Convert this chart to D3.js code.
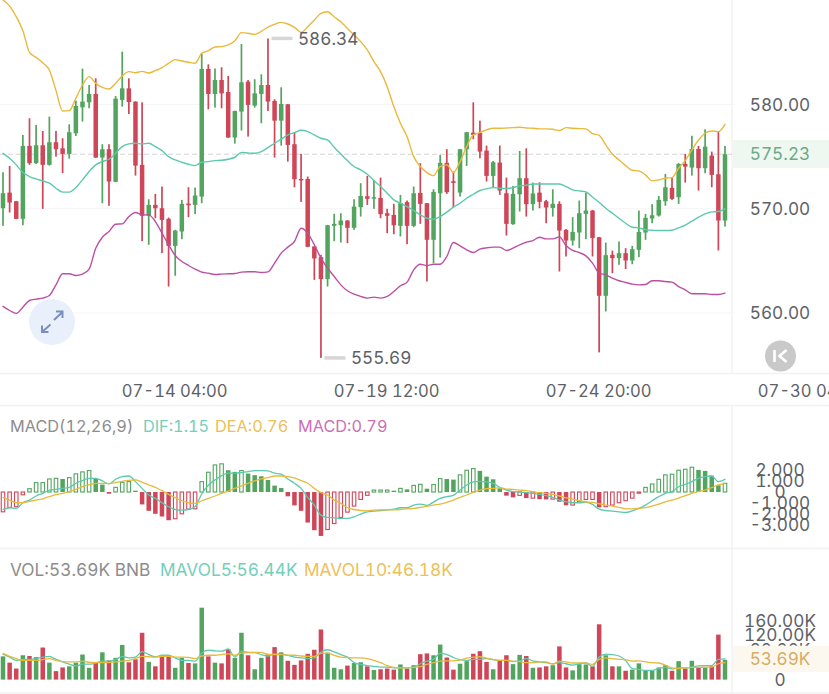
<!DOCTYPE html>
<html>
<head>
<meta charset="utf-8">
<title>BNB candlestick chart</title>
<script src="https://cdn.jsdelivr.net/npm/d3@7/dist/d3.min.js"></script>
<style>
html,body{margin:0;padding:0;background:#fff;}
svg{display:block;}
text{font-family:Inter,Roboto,"Noto Sans",sans-serif;font-variant-numeric:tabular-nums;}
</style>
</head>
<body>
<svg id="chart" width="829" height="694"></svg>
<script>
// Candles as open, high, low, close
const candles = [
[570.05,573.50,568.36,571.49],[571.55,574.11,569.64,570.60],[570.72,570.75,569.00,569.03],[569.03,577.08,568.42,576.03],[576.03,578.68,574.21,574.37],
[574.37,578.04,574.30,576.09],[576.09,577.46,569.99,574.21],[574.21,578.84,574.14,576.38],[576.38,577.46,575.00,575.71],[575.80,576.76,573.41,575.26],
[575.26,578.10,574.81,577.34],[577.24,580.37,576.98,579.86],[579.73,583.44,578.36,580.28],[580.21,581.87,579.64,581.01],[581.01,582.51,574.88,574.91],
[574.91,576.19,570.53,575.71],[575.71,576.19,570.28,572.61],[572.58,580.82,572.55,580.56],[580.44,585.07,579.80,581.55],[581.55,582.51,579.09,580.24],
[580.28,580.30,573.18,574.14],[574.21,580.21,566.89,569.32],[569.32,570.91,566.54,570.37],[570.37,571.43,569.09,570.05],[570.05,572.13,565.74,568.93],
[569.03,569.16,562.54,566.44],[566.44,567.98,563.57,567.91],[567.82,570.85,567.08,570.47],[570.50,572.06,569.19,570.34],[570.37,572.03,569.48,571.27],
[571.17,584.91,570.53,583.41],[583.41,583.85,579.54,581.01],[581.01,583.45,579.70,582.35],[582.35,583.57,579.64,581.07],[581.20,582.74,576.80,576.83],
[576.83,579.41,576.25,579.38],[579.32,585.80,577.50,582.13],[582.19,582.35,576.92,579.96],[579.89,582.42,579.70,581.07],[581.01,582.90,578.20,581.87],
[581.87,586.34,579.38,580.28],[580.34,580.50,574.91,578.45],[578.45,581.65,576.06,580.05],[580.02,580.05,574.52,576.12],[576.19,577.30,572.06,572.83],
[572.86,575.26,570.66,572.74],[572.86,573.09,566.32,566.35],[566.38,566.40,563.18,565.23],[565.36,565.58,555.69,563.25],[563.25,568.45,562.54,568.42],
[568.36,569.51,566.89,568.55],[568.42,569.57,566.76,568.87],[568.87,568.90,566.70,568.17],[568.17,570.91,567.98,570.21],[570.15,572.45,569.25,571.23],
[571.20,573.15,570.37,570.95],[570.98,572.77,569.99,571.11],[571.04,572.99,569.09,569.48],[569.57,569.99,567.66,569.32],[569.41,570.47,567.56,568.42],
[568.36,571.33,567.34,570.53],[570.63,570.79,566.60,568.36],[568.36,572.13,568.23,571.49],[571.52,574.37,568.55,570.47],[570.53,570.55,563.02,567.02],
[567.02,571.87,564.78,571.62],[571.49,575.16,565.32,574.40],[574.40,575.71,571.43,571.59],[572.64,573.57,570.15,572.48],[571.55,575.74,571.17,575.71],
[575.71,577.37,574.11,577.34],[577.30,580.21,576.67,577.08],[577.27,578.45,574.84,575.48],[575.58,576.06,572.61,573.15],[573.15,574.59,572.06,574.46],
[574.43,576.06,571.33,571.75],[571.49,572.99,567.43,568.55],[568.52,572.19,568.46,571.43],[571.39,575.55,569.73,572.93],[572.93,575.80,569.25,570.44],
[570.44,572.51,569.83,571.46],[571.55,572.54,570.05,570.66],[570.72,570.85,568.61,570.12],[570.08,571.87,569.25,570.47],[570.47,570.72,563.98,567.91],
[567.98,568.04,565.42,566.95],[566.95,569.19,566.47,567.78],[567.72,570.79,566.22,569.57],[569.51,571.55,567.08,569.83],[569.83,569.89,565.42,567.18],
[567.27,567.30,556.22,561.65],[561.65,566.76,560.15,565.55],[565.58,565.99,563.82,565.26],[565.26,566.86,564.62,565.74],[565.74,566.22,564.21,565.04],
[565.04,566.44,564.68,566.12],[566.06,569.83,565.36,567.78],[567.72,569.51,567.02,569.13],[569.06,570.44,568.61,569.38],[569.35,571.23,569.25,570.85],
[570.72,573.34,570.28,572.06],[572.00,572.99,570.85,570.95],[571.11,574.37,570.47,574.30],[574.30,575.26,572.51,574.05],[573.95,577.00,573.18,575.74],
[575.74,576.03,571.75,573.89],[573.89,577.62,573.41,575.96],[575.10,575.48,572.06,573.25],[573.31,577.40,566.00,568.87],[568.87,576.03,568.29,575.23]
];

// Bollinger bands
const bollUpper = [
590.02,589.44,588.42,587.08,585.00,584.52,584.01,583.31,581.33,579.38,
579.41,580.60,581.87,582.67,582.03,581.65,581.49,582.03,582.74,583.15,
583.05,583.18,583.02,583.25,583.53,583.95,584.30,584.17,584.05,583.95,
584.91,585.16,585.52,585.55,585.71,586.12,586.89,586.83,586.73,587.02,
587.43,587.69,587.88,587.72,587.40,586.92,587.46,588.10,588.74,588.90,
588.42,587.94,587.30,586.67,586.03,585.23,584.11,583.15,581.71,579.80,
578.20,576.92,575.00,574.05,573.47,573.18,574.05,574.21,573.47,574.52,
575.96,577.08,577.30,577.56,577.72,577.72,577.75,577.78,577.82,577.75,
577.72,577.66,577.66,577.62,577.50,577.78,577.72,577.69,577.66,577.21,
577.05,576.12,575.26,574.68,574.14,573.69,573.63,573.25,572.67,572.77,
572.93,572.99,573.89,574.62,575.64,576.60,577.24,577.46,577.40,578.10];
const bollMid = [
575.32,574.84,574.21,573.47,573.09,572.86,572.67,572.45,571.97,571.59,
571.59,572.03,572.77,573.57,574.21,574.52,574.75,575.32,575.96,576.22,
576.28,576.22,576.28,575.96,575.58,575.00,574.68,574.46,574.27,574.14,
574.46,574.52,574.62,574.65,574.75,574.94,575.39,575.35,575.32,575.48,
575.87,576.28,576.67,577.08,577.30,577.53,577.40,577.08,576.76,576.60,
575.90,575.26,574.62,574.05,573.73,573.31,572.70,572.13,571.49,570.85,
570.53,570.21,569.83,569.41,569.09,569.00,569.25,569.67,570.15,570.53,
571.01,571.39,571.75,571.91,572.03,571.97,571.94,572.03,572.19,572.26,
572.38,572.38,572.38,572.38,572.38,572.13,571.81,571.71,571.62,571.11,
570.63,570.05,569.57,569.09,568.61,568.23,568.17,567.98,567.94,567.91,
567.91,567.94,568.17,568.42,568.81,569.19,569.51,569.70,569.73,569.99];
const bollLower = [
560.63,560.24,559.96,560.56,561.20,561.33,561.43,561.68,562.70,563.76,
563.76,563.60,563.73,564.21,566.22,567.27,567.82,568.52,568.55,569.25,
569.64,569.41,569.41,568.77,567.66,566.54,565.51,564.94,564.56,564.21,
563.92,563.82,563.69,563.73,563.76,563.79,563.92,563.95,563.95,563.89,
563.95,564.78,565.74,566.32,566.86,568.13,567.66,566.54,565.26,564.30,
563.50,562.70,562.13,561.81,561.59,561.43,561.52,561.43,561.59,562.06,
562.61,562.96,564.14,564.68,564.56,564.68,564.68,565.42,566.76,566.44,
566.06,565.80,566.12,566.25,566.32,566.32,566.00,566.22,566.54,566.79,
566.95,567.27,567.11,567.11,567.30,566.47,566.00,565.80,565.48,564.78,
563.82,563.66,563.34,563.09,562.93,562.77,562.70,562.74,563.09,563.09,
563.02,562.96,562.54,562.22,561.84,561.84,561.84,561.78,561.78,561.90];

// MACD(12,26,9)
const macdHist = [
-1.79,-1.39,-1.33,-0.25,0.30,0.85,0.85,1.18,1.24,1.18,
1.30,1.64,1.82,1.94,1.18,0.67,-0.15,0.42,0.88,0.94,
0.12,-1.12,-1.70,-1.97,-2.21,-2.55,-2.42,-1.97,-1.55,-1.52,
0.94,1.79,2.45,2.55,1.97,1.82,1.94,1.67,1.52,1.42,
1.09,0.58,0.36,-0.39,-1.21,-1.70,-2.76,-3.45,-3.97,-3.39,
-2.85,-2.30,-1.82,-1.27,-0.67,-0.30,0.18,0.18,0.18,0.12,
0.33,0.24,0.60,0.70,0.30,0.67,1.21,1.18,1.12,1.55,
1.97,2.12,1.91,1.39,1.15,0.33,-0.33,-0.48,-0.30,-0.55,
-0.55,-0.64,-0.67,-0.64,-0.88,-1.20,-1.18,-0.88,-0.67,-0.67,
-1.39,-1.33,-1.18,-0.97,-0.79,-0.55,-0.10,0.42,0.73,1.15,
1.55,1.61,1.97,2.06,2.24,2.00,1.91,1.48,0.61,0.79];
const macdDif = [
-1.58,-1.42,-1.48,-0.97,-0.73,-0.36,-0.12,0.18,0.24,0.33,
0.42,0.79,1.03,1.24,1.24,1.00,0.73,1.15,1.39,1.45,
0.94,0.33,-0.27,-0.58,-0.97,-1.33,-1.58,-1.64,-1.58,-1.33,
-0.18,0.61,1.09,1.48,1.70,1.70,1.76,1.85,1.94,1.94,
1.91,1.70,1.61,1.18,0.79,0.33,-0.48,-1.18,-2.09,-2.30,
-2.33,-2.39,-2.39,-2.24,-2.00,-1.79,-1.73,-1.67,-1.64,-1.55,
-1.42,-1.42,-1.18,-1.09,-1.21,-0.91,-0.58,-0.42,-0.30,0.18,
0.64,0.91,0.97,0.91,0.79,0.42,0.18,0.03,0.00,-0.06,
-0.12,-0.21,-0.33,-0.48,-0.73,-0.88,-0.97,-0.97,-0.94,-1.12,
-1.55,-1.67,-1.73,-1.79,-1.85,-1.70,-1.48,-1.18,-0.79,-0.42,
-0.12,0.03,0.48,0.70,0.94,1.24,1.39,1.45,0.94,1.15];
const macdDea = [
-0.48,-0.73,-0.97,-0.97,-0.85,-0.73,-0.61,-0.42,-0.24,-0.12,
0.03,0.24,0.48,0.67,0.79,0.79,0.76,0.85,0.97,1.06,
1.09,0.88,0.64,0.42,0.12,-0.21,-0.52,-0.79,-0.97,-1.03,
-0.79,-0.58,-0.36,-0.12,0.09,0.33,0.55,0.79,1.00,1.18,
1.30,1.45,1.45,1.39,1.27,1.03,0.79,0.33,-0.06,-0.27,
-0.73,-1.03,-1.42,-1.58,-1.67,-1.70,-1.64,-1.61,-1.61,-1.61,
-1.58,-1.52,-1.48,-1.39,-1.30,-1.18,-1.09,-0.94,-0.73,-0.48,
-0.27,-0.03,0.18,0.30,0.33,0.39,0.27,0.24,0.18,0.12,
0.03,-0.06,-0.12,-0.21,-0.36,-0.52,-0.64,-0.79,-0.88,-0.94,
-1.06,-1.18,-1.27,-1.39,-1.52,-1.52,-1.48,-1.42,-1.27,-1.09,
-0.88,-0.73,-0.55,-0.33,-0.12,0.03,0.18,0.39,0.64,0.76];

// Volume in thousands of BNB
const volume = [
63,46,30,66,64,61,87,46,23,33,
36,46,68,32,45,74,52,59,94,47,
55,127,48,36,63,63,32,59,45,44,
195,63,46,44,82,59,127,66,28,59,
70,88,74,51,40,52,70,81,136,73,
32,28,38,45,47,36,26,28,30,27,
41,30,39,69,71,66,95,60,27,43,
50,70,77,48,28,52,66,42,67,64,
32,33,36,39,90,33,25,42,41,36,
150,66,36,36,24,27,44,24,24,33,
39,24,50,30,51,33,33,36,122,53.69];
const maVol5 = [
69,61,52,55,55,57,61,63,55,48,
42,37,42,42,45,50,50,54,63,59,
61,76,68,62,66,66,59,52,52,50,
72,80,78,77,83,61,77,74,73,68,
64,70,69,66,61,59,57,59,75,81,
75,68,61,46,41,38,36,34,34,32,
32,32,33,43,50,55,71,68,60,54,
52,55,55,57,54,52,52,49,51,57,
51,48,46,43,46,43,39,43,45,36,
61,69,68,64,52,30,28,25,25,30,
33,29,32,32,34,37,38,38,55,56.44];
const maVol10 = [
71,63,57,52,52,52,54,57,52,49,
48,48,50,47,46,46,46,48,50,52,
57,63,62,61,63,63,61,61,60,57,
64,66,66,68,70,66,72,73,74,74,
68,68,68,66,66,64,63,63,71,72,
66,61,60,59,59,57,52,46,38,33,
32,32,33,35,41,46,50,51,51,53,
58,61,62,58,54,52,52,50,49,46,
46,48,48,42,50,48,45,45,45,41,
55,59,57,55,54,50,51,48,46,45,
39,32,30,32,33,33,34,34,43,46.18];

// Axis ticks and header readouts
const priceTicks = [580, 570, 560];
const macdTicks = [2, 1, 0, -1, -2, -3];
const volumeTicks = [160, 120, 80, 40, 0];
const timeTicks = [[26, "07-14 04:00"], [58, "07-19 12:00"], [90, "07-24 20:00"], [122, "07-30 04:00"]];
const lastPrice = 575.23;
const lastVolume = 53.69;
const highPoint = [40, 586.34];
const lowPoint = [48, 555.69];
const macdLegend = [["MACD(12,26,9)", 10, "#8d8d8d"], ["DIF:1.15", 143, "#74cfba"], ["DEA:0.76", 215, "#ecc05a"], ["MACD:0.79", 298, "#c971b6"]];
const volLegend = [["VOL:53.69K BNB", 10, "#8d8d8d"], ["MAVOL5:56.44K", 160, "#74cfba"], ["MAVOL10:46.18K", 304, "#ecc05a"]];

const UP = "#52a45e", DOWN = "#cf4659", TEAL = "#5cc9ad", GOLD = "#e9b93c", MAGENTA = "#bb4fa2";
const INK = "#5d6167", GRID = "#f5f5f5";
const AXIS_SIZE = 17.2, TIME_SIZE = 16.6, MACD_LEGEND_SIZE = 16.3, VOL_LEGEND_SIZE = 17.3;

const svg = d3.select("#chart");
const x = d3.scaleLinear().domain([0, 109]).range([3, 725]);
const yPrice = d3.scaleLinear().domain([560, 580]).range([313, 104.5]);
const yMacd = d3.scaleLinear().domain([-3, 2]).range([525.2, 469.9]);
const yVol = d3.scaleLinear().domain([0, 160]).range([679.6, 620.6]);
const isUp = d => d[3] >= d[0];
const barW = 4.5;
const plotRight = 732;

// Panel dividers and the price grid; the time axis strip has no vertical rule
const frame = svg.append("g").attr("stroke", "#f2f2f2").attr("stroke-width", 1.5);
[[0, 373.5], [405.5, 694]].forEach(([a, b]) =>
  frame.append("line").attr("x1", plotRight).attr("x2", plotRight).attr("y1", a).attr("y2", b));
[373.5, 405.5, 548.5, 693].forEach(y =>
  frame.append("line").attr("x1", 0).attr("x2", 829).attr("y1", y).attr("y2", y));

svg.append("g").selectAll("line").data(priceTicks).join("line")
  .attr("x1", 0).attr("x2", plotRight + 3)
  .attr("y1", d => yPrice(d)).attr("y2", d => yPrice(d))
  .attr("stroke", GRID).attr("stroke-width", 1.2);

// Last price guide
svg.append("line").attr("x1", 0).attr("x2", plotRight)
  .attr("y1", yPrice(lastPrice)).attr("y2", yPrice(lastPrice))
  .attr("stroke", "#d3d3d3").attr("stroke-width", 1).attr("stroke-dasharray", "5 3");

// Candles
const candle = svg.append("g").selectAll("g").data(candles).join("g")
  .attr("fill", d => isUp(d) ? UP : DOWN);
candle.append("rect")
  .attr("x", (d, i) => x(i) - 0.85).attr("width", 1.7)
  .attr("y", d => yPrice(d[1])).attr("height", d => yPrice(d[2]) - yPrice(d[1]));
candle.append("rect")
  .attr("x", (d, i) => x(i) - barW / 2).attr("width", barW)
  .attr("y", d => yPrice(Math.max(d[0], d[3])))
  .attr("height", d => Math.max(1.5, Math.abs(yPrice(d[0]) - yPrice(d[3]))));

// Line overlay helper shared by all three panels
function drawLine(values, y, color, width) {
  const line = d3.line().x((d, i) => x(i)).y(d => y(d)).curve(d3.curveMonotoneX);
  svg.append("path").attr("d", line(values)).attr("fill", "none")
    .attr("stroke", color).attr("stroke-width", width)
    .attr("stroke-linejoin", "round").attr("stroke-linecap", "round");
}
drawLine(bollUpper, yPrice, GOLD, 1.4);
drawLine(bollMid, yPrice, TEAL, 1.4);
drawLine(bollLower, yPrice, MAGENTA, 1.4);

// High and low callouts
function callout(point) {
  const px = x(point[0]), py = yPrice(point[1]);
  svg.append("line").attr("x1", px + 3.5).attr("x2", px + 24.5).attr("y1", py).attr("y2", py)
    .attr("stroke", "#d6d6d6").attr("stroke-width", 3.5);
  svg.append("text").attr("x", px + 30).attr("y", py).attr("dy", "0.36em")
    .attr("font-size", AXIS_SIZE).attr("fill", INK).text(point[1].toFixed(2));
}
callout(highPoint);
callout(lowPoint);

// Shared styling for the right-hand value axes
function styleAxis(g) {
  g.select(".domain").remove();
  g.selectAll("text").attr("text-anchor", "middle").attr("font-size", AXIS_SIZE)
    .attr("font-family", null).attr("fill", INK);
}

// Price axis
svg.append("g").attr("transform", "translate(780,0)")
  .call(d3.axisRight(yPrice).tickValues(priceTicks).tickFormat(d3.format(".2f")).tickSize(0).tickPadding(0))
  .call(styleAxis);

// Last price tag
svg.append("rect").attr("x", plotRight + 1).attr("y", 140).attr("width", 829 - plotRight).attr("height", 28).attr("fill", "#eff8f0");
svg.append("text").attr("x", 780).attr("y", yPrice(lastPrice)).attr("dy", "0.36em").attr("text-anchor", "middle")
  .attr("font-size", AXIS_SIZE).attr("fill", "#6eaa86").text(lastPrice.toFixed(2));

// Time axis
const timeAxis = svg.append("g").attr("transform", "translate(-1,391)")
  .call(d3.axisBottom(x).tickValues(timeTicks.map(d => d[0])).tickFormat(d => new Map(timeTicks).get(d)).tickSize(0).tickPadding(0));
timeAxis.select(".domain").remove();
timeAxis.selectAll("text").attr("y", 0).attr("dy", "0.36em").attr("font-size", TIME_SIZE).attr("font-family", null).attr("fill", INK);

// Expand control
const expand = svg.append("g").attr("transform", "translate(52,322)");
expand.append("circle").attr("r", 23).attr("fill", "#e9f0fb");
expand.append("path").attr("d", "M2,-2 L10.5,-10 M4,-10.5 H10.5 V-4 M-10,10 L-1.5,2.5 M-10,3.5 V10 H-3.5")
  .attr("fill", "none").attr("stroke", "#7a8fbb").attr("stroke-width", 2);

// Jump-to-latest control
const jump = svg.append("g").attr("transform", "translate(780.5,356)");
jump.append("circle").attr("r", 15.5).attr("fill", "#c9c9c9");
jump.append("path").attr("d", "M-6,-6 V6 M6,-6 L-1,0 L6,6").attr("fill", "none").attr("stroke", "#fff").attr("stroke-width", 2.6);

// MACD header
svg.append("g").selectAll("text").data(macdLegend).join("text")
  .attr("x", d => d[1]).attr("y", 426).attr("dy", "0.36em")
  .attr("font-size", MACD_LEGEND_SIZE).attr("fill", d => d[2]).text(d => d[0]);

// MACD histogram: hollow while rising, solid while falling
svg.append("g").selectAll("rect").data(macdHist).join("rect")
  .each(function (d, i) {
    const rising = i === 0 ? true : d >= macdHist[i - 1];
    const color = d >= 0 ? UP : DOWN;
    const top = yMacd(Math.max(d, 0)), bottom = yMacd(Math.min(d, 0));
    d3.select(this)
      .attr("x", x(i) - barW / 2 + (rising ? 0.5 : 0)).attr("width", barW - (rising ? 1 : 0))
      .attr("y", top).attr("height", Math.max(1.2, bottom - top))
      .attr("fill", rising ? "none" : color)
      .attr("stroke", rising ? color : "none").attr("stroke-width", 1.1);
  });
drawLine(macdDif, yMacd, TEAL, 1.3);
drawLine(macdDea, yMacd, GOLD, 1.3);

svg.append("g").attr("transform", "translate(780,0)")
  .call(d3.axisRight(yMacd).tickValues(macdTicks)
    .tickFormat(d => d === 0 ? "0" : d3.format(".3f")(d).replace("\u2212", "-")).tickSize(0).tickPadding(0))
  .call(styleAxis);

// Volume header
svg.append("g").selectAll("text").data(volLegend).join("text")
  .attr("x", d => d[1]).attr("y", 570).attr("dy", "0.36em")
  .attr("font-size", VOL_LEGEND_SIZE).attr("fill", d => d[2]).text(d => d[0]);

// Volume bars take their colour from the candle of the same period
svg.append("g").selectAll("rect").data(volume).join("rect")
  .attr("x", (d, i) => x(i) - barW / 2).attr("width", barW)
  .attr("y", d => yVol(d)).attr("height", d => yVol(0) - yVol(d))
  .attr("fill", (d, i) => isUp(candles[i]) ? UP : DOWN);
drawLine(maVol5, yVol, TEAL, 1.3);
drawLine(maVol10, yVol, GOLD, 1.3);

svg.append("g").attr("transform", "translate(780,0)")
  .call(d3.axisRight(yVol).tickValues(volumeTicks)
    .tickFormat(d => d === 0 ? "0" : d.toFixed(2) + "K").tickSize(0).tickPadding(0))
  .call(styleAxis);

// Last volume tag sits over the lower ticks
svg.append("rect").attr("x", plotRight + 1).attr("y", 645.7).attr("width", 829 - plotRight).attr("height", 26.5).attr("fill", "#fcf8f0");
svg.append("text").attr("x", 780).attr("y", 659).attr("dy", "0.36em").attr("text-anchor", "middle")
  .attr("font-size", AXIS_SIZE).attr("fill", "#d8ad62").text(lastVolume.toFixed(2) + "K");
</script>
</body>
</html>
